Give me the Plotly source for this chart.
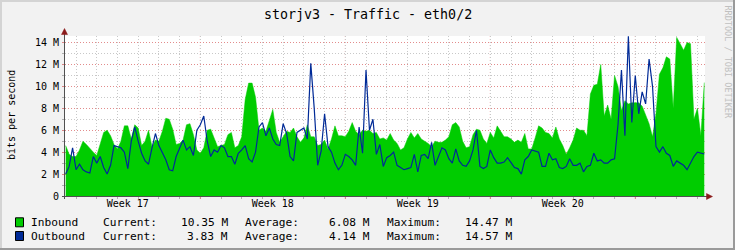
import plotly.graph_objects as go

# ---------------- data ----------------
T0_HOURS = 12          # first sample, hours after Monday 00:00 of week 17
STEP_HOURS = 4         # sampling step of the series

INBOUND = [  # Mbit/s
    4.6, 3.8, 3.6, 3.6, 4.2, 5.0, 4.7, 4.3, 4.0, 3.7,
    4.8, 5.8, 6.0, 5.5, 4.7, 4.3, 5.0, 6.4, 6.4, 5.2,
    6.5, 6.2, 4.6, 5.0, 6.0, 4.5, 5.1, 5.0, 5.9, 7.1,
    7.0, 6.1, 4.7, 4.8, 5.1, 6.5, 6.6, 5.6, 4.2, 3.9,
    4.4, 6.0, 6.1, 5.2, 4.5, 4.6, 4.7, 5.6, 5.8, 4.4,
    4.6, 5.4, 8.8, 10.3, 10.3, 9.0, 6.0, 6.2, 5.9, 6.9,
    7.9, 5.8, 4.9, 5.4, 5.9, 5.8, 6.2, 5.4, 4.9, 5.3,
    6.5, 5.4, 5.4, 4.6, 4.7, 5.1, 4.3, 5.2, 6.4, 5.5,
    5.5, 5.4, 5.9, 6.7, 5.9, 5.6, 6.0, 5.9, 6.0, 5.7,
    5.8, 5.2, 5.3, 5.1, 5.7, 5.1, 4.8, 4.2, 4.4, 5.2,
    5.8, 5.3, 5.7, 5.2, 5.0, 4.8, 4.5, 5.0, 4.9, 4.9,
    5.1, 5.4, 6.5, 6.7, 6.3, 5.0, 4.4, 4.5, 5.6, 6.1,
    6.0, 5.2, 4.8, 5.8, 5.3, 6.4, 5.9, 5.4, 5.4, 5.2,
    4.9, 5.1, 4.9, 5.7, 4.3, 4.3, 5.3, 6.4, 6.2, 5.8,
    5.7, 5.3, 6.3, 5.2, 4.6, 3.8, 4.4, 5.1, 6.2, 6.0,
    6.0, 5.5, 9.3, 10.1, 10.2, 12.0, 7.3, 8.3, 7.0, 11.0,
    10.0, 7.8, 8.7, 8.4, 8.5, 8.5, 8.5, 8.2, 7.4, 6.6,
    5.4, 7.5, 11.1, 11.7, 12.7, 12.5, 8.0, 14.47, 13.9, 13.3,
    14.0, 13.9, 7.0, 8.0, 5.5, 10.35,
]

OUTBOUND = [  # Mbit/s
    2.0, 2.7, 4.4, 2.4, 2.9, 2.4, 2.2, 2.1, 3.6, 3.0,
    3.6, 2.6, 2.0, 2.8, 4.6, 4.5, 4.4, 4.0, 2.5, 5.0,
    6.3, 5.0, 3.9, 3.2, 2.9, 4.4, 5.7, 4.6, 3.9, 3.3,
    2.4, 2.3, 3.6, 4.3, 5.1, 4.2, 4.5, 3.7, 6.0, 6.5,
    7.3, 5.0, 3.6, 4.2, 4.0, 4.6, 4.4, 3.6, 3.6, 2.9,
    3.9, 4.2, 4.6, 3.4, 3.1, 4.0, 6.3, 6.7, 5.5, 6.2,
    5.2, 4.7, 4.6, 6.6, 5.7, 3.6, 3.2, 5.8, 6.0, 6.2,
    5.2, 12.1, 8.0, 2.8, 4.1, 7.5, 4.5, 4.0, 3.0, 2.4,
    2.8, 3.8, 3.6, 3.3, 2.8, 6.3, 3.9, 11.5, 6.0, 7.0,
    3.8, 4.7, 2.7, 3.5, 3.7, 4.0, 2.8, 2.6, 2.4, 2.5,
    2.6, 3.8, 2.2, 3.7, 3.8, 3.4, 4.9, 2.8, 3.7, 4.4,
    4.2, 3.4, 3.0, 4.3, 3.2, 2.8, 2.7, 3.2, 4.2, 6.0,
    2.7, 2.5, 2.7, 4.2, 3.5, 3.0, 3.0, 3.1, 3.5, 3.0,
    2.6, 2.5, 2.0, 3.3, 3.6, 4.2, 4.1, 4.0, 2.7, 2.7,
    3.9, 3.3, 3.4, 2.6, 2.5, 2.7, 3.4, 2.8, 2.8, 3.0,
    2.2, 2.7, 2.8, 3.9, 3.2, 3.3, 3.0, 3.0, 3.3, 3.4,
    6.5, 11.5, 5.5, 14.57, 6.7, 11.0, 7.5, 9.5, 8.4, 12.5,
    10.0, 4.5, 4.0, 4.5, 3.9, 3.7, 2.7, 3.2, 3.0, 2.8,
    2.4, 3.0, 3.6, 4.0, 3.9, 3.83,
]

TIME_HOURS = [T0_HOURS + STEP_HOURS * i for i in range(len(INBOUND))]

WEEK_LABELS = ["Week 17", "Week 18", "Week 19", "Week 20"]
WEEK_STARTS = [0, 168, 336, 504]          # hours
WEEK_BOUNDARIES = [168, 336, 504, 672]    # hours
HOURS_PER_DAY = 24
X_RANGE = [11.2, 752.8]

Y_TICK_VALUES = [0, 2, 4, 6, 8, 10, 12, 14]
Y_TICK_LABELS = ["0", "2 M", "4 M", "6 M", "8 M", "10 M", "12 M", "14 M"]
Y_RANGE = [0, 14.6]

SERIES_NAMES = ["Inbound", "Outbound"]
SERIES_COLORS = ["#00CC00", "#002A97"]
CURRENT = ["10.35 M", "3.83 M"]
AVERAGE = ["6.08 M", "4.14 M"]
MAXIMUM = ["14.47 M", "14.57 M"]

TITLE = "storjv3 - Traffic - eth0/2"
Y_TITLE = "bits per second"
WATERMARK = "RRDTOOL / TOBI OETIKER"

# ---------------- layout helpers ----------------
W, H = 735, 250
L, R, T, B = 65, 30, 36, 54
MONO = "DejaVu Sans Mono"


def px(x):
    return (x - L) / (W - L - R)


def py(y):
    return (H - B - y) / (H - T - B)


MAJOR_GRID = "rgba(235,120,120,0.75)"
MINOR_GRID = "#C8C8C8"
DOTS = "1px,2px"

fig = go.Figure()
fig.add_trace(go.Scatter(
    x=TIME_HOURS, y=INBOUND, mode="lines", name=SERIES_NAMES[0],
    fill="tozeroy", fillcolor=SERIES_COLORS[0],
    line=dict(color=SERIES_COLORS[0], width=0.5), hoverinfo="skip"))
fig.add_trace(go.Scatter(
    x=TIME_HOURS, y=OUTBOUND, mode="lines", name=SERIES_NAMES[1],
    line=dict(color=SERIES_COLORS[1], width=1.2), hoverinfo="skip"))

shapes = []
# week boundary grid lines and ticks
for wb in WEEK_BOUNDARIES:
    shapes.append(dict(type="line", xref="x", yref="paper", x0=wb, x1=wb,
                       y0=0, y1=1, layer="below",
                       line=dict(color=MAJOR_GRID, width=1, dash=DOTS)))
    shapes.append(dict(type="line", xref="x", yref="paper", x0=wb, x1=wb,
                       y0=py(196), y1=py(199),
                       line=dict(color=MAJOR_GRID, width=1)))
# axis lines
shapes.append(dict(type="line", xref="paper", yref="paper",
                   x0=px(64.5), x1=px(64.5), y0=py(199), y1=py(31),
                   line=dict(color="#505050", width=1)))
shapes.append(dict(type="line", xref="paper", yref="paper",
                   x0=px(62), x1=px(708), y0=py(196.5), y1=py(196.5),
                   line=dict(color="#505050", width=1)))
# arrow heads
ARROW = "#8B1A1A"
shapes.append(dict(type="path", xref="paper", yref="paper",
                   path=f"M {px(61.5)} {py(34.5)} L {px(67.5)} {py(34.5)} L {px(64.5)} {py(28.5)} Z",
                   fillcolor=ARROW, line=dict(color=ARROW, width=0.5)))
shapes.append(dict(type="path", xref="paper", yref="paper",
                   path=f"M {px(706.5)} {py(193.5)} L {px(706.5)} {py(199.5)} L {px(712.5)} {py(196.5)} Z",
                   fillcolor=ARROW, line=dict(color=ARROW, width=0.5)))
# frame borders
shapes.append(dict(type="rect", xref="paper", yref="paper", x0=px(0), x1=px(735),
                   y0=py(0), y1=py(2), fillcolor="#D4D4D4", line=dict(width=0)))
shapes.append(dict(type="rect", xref="paper", yref="paper", x0=px(0), x1=px(2),
                   y0=py(0), y1=py(250), fillcolor="#D4D4D4", line=dict(width=0)))
shapes.append(dict(type="rect", xref="paper", yref="paper", x0=px(733), x1=px(735),
                   y0=py(0), y1=py(250), fillcolor="#9A9A9A", line=dict(width=0)))
shapes.append(dict(type="rect", xref="paper", yref="paper", x0=px(0), x1=px(735),
                   y0=py(248), y1=py(250), fillcolor="#9A9A9A", line=dict(width=0)))

annotations = [
    dict(text=TITLE, x=px(367.5), y=py(14.5), xref="paper", yref="paper",
         xanchor="center", yanchor="middle", showarrow=False,
         font=dict(family=MONO, size=13.3, color="#000")),
    dict(text=Y_TITLE, x=px(11), y=py(115), xref="paper", yref="paper",
         xanchor="center", yanchor="middle", showarrow=False, textangle=-90,
         font=dict(family=MONO, size=10, color="#000")),
    dict(text=WATERMARK, x=px(727), y=py(3), xref="paper", yref="paper",
         xanchor="center", yanchor="top", showarrow=False, textangle=90,
         font=dict(family=MONO, size=8.5, color="#C0C0C0")),
]

LEG_FONT = dict(family=MONO, size=11.2, color="#000")
for k, name in enumerate(SERIES_NAMES):
    yc = 222.3 + 13.7 * k
    shapes.append(dict(type="rect", xref="paper", yref="paper",
                       x0=px(15.5), x1=px(23.5), y0=py(yc - 4.5), y1=py(yc + 4.5),
                       fillcolor=SERIES_COLORS[k], line=dict(color="#000", width=1)))
    items = [
        (name, 30.0, "left"),
        ("Current:", 102.0, "left"),
        (CURRENT[k], 229.0, "right"),
        ("Average:", 244.3, "left"),
        (AVERAGE[k], 371.0, "right"),
        ("Maximum:", 386.0, "left"),
        (MAXIMUM[k], 513.0, "right"),
    ]
    for text, xpos, anchor in items:
        annotations.append(dict(text=text, x=px(xpos), y=py(yc), xref="paper", yref="paper",
                                xanchor=anchor, yanchor="middle", showarrow=False,
                                font=LEG_FONT, borderpad=0))

fig.update_layout(
    width=W, height=H, margin=dict(l=L, r=R, t=T, b=B, pad=0),
    paper_bgcolor="#F2F2F2", plot_bgcolor="#FFFFFF",
    showlegend=False, shapes=shapes, annotations=annotations,
    xaxis=dict(
        range=X_RANGE, tickmode="array",
        tickvals=[s + 3.5 * HOURS_PER_DAY for s in WEEK_STARTS], ticktext=WEEK_LABELS,
        showgrid=False, zeroline=False, showline=False, ticks="",
        tickfont=dict(family=MONO, size=10, color="#000"), ticklabelstandoff=0,
        minor=dict(tick0=0, dtick=HOURS_PER_DAY, showgrid=True, gridcolor=MINOR_GRID,
                   griddash=DOTS, gridwidth=1, ticks="outside", ticklen=2,
                   tickcolor="#B0B0B0"),
    ),
    yaxis=dict(
        range=Y_RANGE, tickmode="array", tickvals=Y_TICK_VALUES, ticktext=Y_TICK_LABELS,
        showgrid=True, gridcolor=MAJOR_GRID, griddash=DOTS, gridwidth=1,
        zeroline=False, showline=False, ticks="outside", ticklen=2, tickcolor=MAJOR_GRID,
        tickfont=dict(family=MONO, size=10, color="#000"), ticklabelstandoff=1,
        minor=dict(tick0=0, dtick=1, showgrid=True, gridcolor=MINOR_GRID,
                   griddash=DOTS, gridwidth=1, ticks="outside", ticklen=2,
                   tickcolor="#B0B0B0"),
    ),
)

fig.write_html("out.html", config={"displayModeBar": False})
